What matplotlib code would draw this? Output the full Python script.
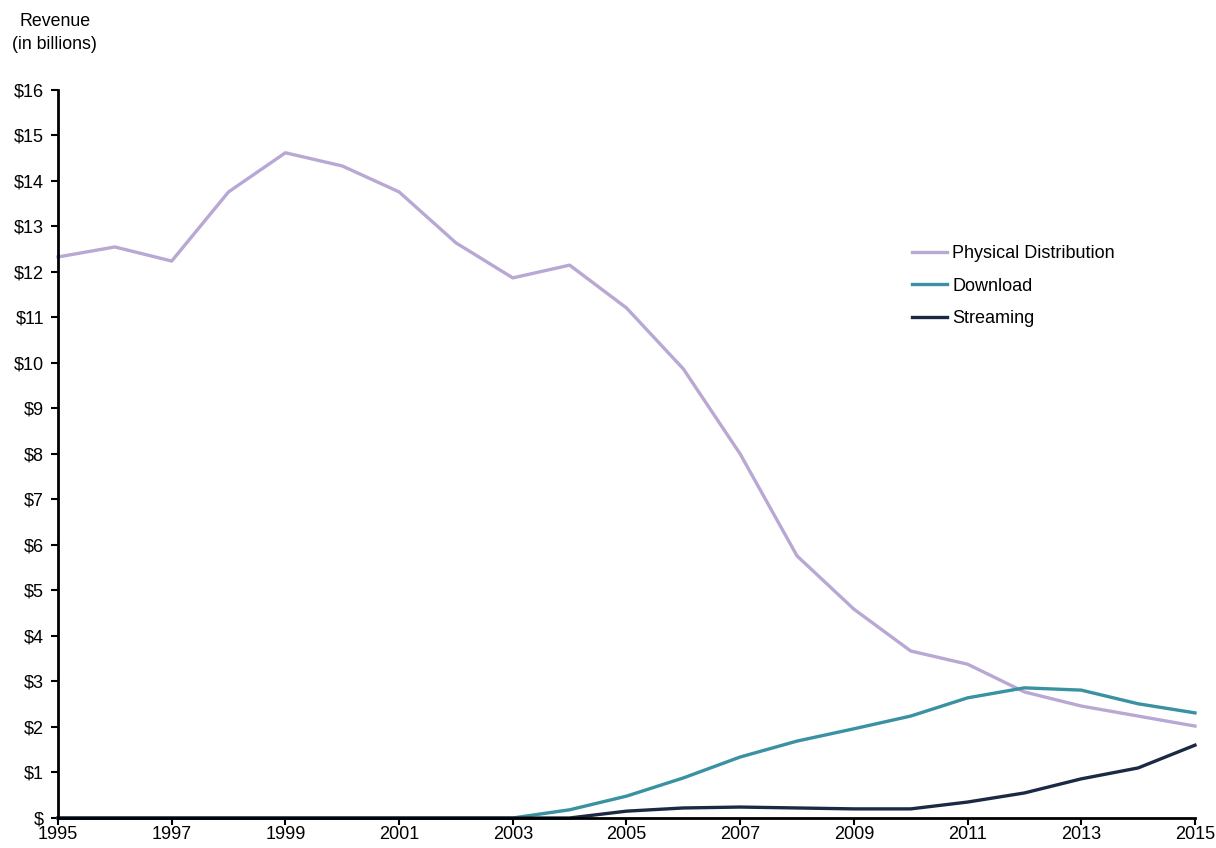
import matplotlib
matplotlib.use("Agg")
from matplotlib import pyplot as plt

plt.rcParams['font.family'] = ['Liberation Sans', 'DejaVu Sans']

years = list(range(1995, 2016))
physical = [12.33, 12.55, 12.24, 13.76, 14.62, 14.33, 13.76, 12.64, 11.87, 12.15,
            11.21, 9.87, 8.0, 5.76, 4.59, 3.67, 3.38, 2.77, 2.46, 2.24, 2.02]
download = [0, 0, 0, 0, 0, 0, 0, 0, 0, 0.18,
            0.48, 0.88, 1.34, 1.69, 1.96, 2.24, 2.64, 2.86, 2.81, 2.51, 2.31]
streaming = [0, 0, 0, 0, 0, 0, 0, 0, 0, 0,
             0.15, 0.22, 0.24, 0.22, 0.2, 0.2, 0.35, 0.55, 0.86, 1.1, 1.6]
ytick_labels = ['$'] + ['$' + str(i) for i in range(1, 17)]

fig = plt.figure(figsize=(12.16, 8.48), dpi=100)
ax = fig.add_axes([0.0477, 0.0354, 0.935, 0.8585])

ax.plot(years, physical, color='#b8a8d3', lw=2.4, label='Physical Distribution', clip_on=False)
ax.plot(years, download, color='#3a91a2', lw=2.4, label='Download', clip_on=False)
ax.plot(years, streaming, color='#1b2945', lw=2.4, label='Streaming', clip_on=False)

ax.set_xlim(1995, 2015)
ax.set_ylim(0, 16)
ax.set_xticks(range(1995, 2016, 2))
ax.set_yticks(range(0, 17))
ax.set_yticklabels(ytick_labels)
ax.tick_params(axis='both', labelsize=13, color='black', length=5, width=1.5, direction='out')
ax.tick_params(axis='x', pad=1)
ax.tick_params(axis='y', pad=5)

for s in ['top', 'right']:
    ax.spines[s].set_visible(False)
for s in ['left', 'bottom']:
    ax.spines[s].set_linewidth(2)

fig.text(0.045, 0.975, 'Revenue', fontsize=12.8, ha='center', va='center')
fig.text(0.045, 0.947, '(in billions)', fontsize=12.8, ha='center', va='center')

ax.legend(loc='upper left', bbox_to_anchor=(0.737, 0.809), frameon=False, fontsize=13,
          handlelength=1.95, handletextpad=0.28, labelspacing=0.85)

fig.savefig('out.png', dpi=100)
